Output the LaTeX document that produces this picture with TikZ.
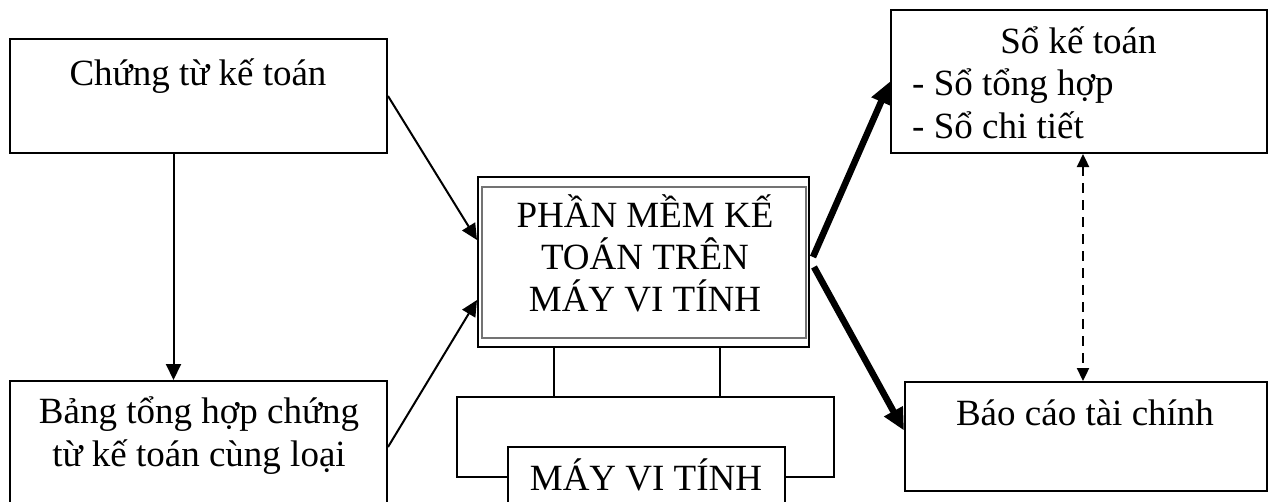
\documentclass[tikz,border=0pt]{standalone}
\usepackage{fontspec}
\setmainfont{Liberation Serif}
\usetikzlibrary{arrows.meta,calc}

\begin{document}
\begin{tikzpicture}[x=1pt,y=-1pt,
  box/.style={draw=black, line width=2pt, fill=white, rectangle, inner sep=0pt},
  txt/.style={anchor=base, inner sep=0pt, font=\fontsize{37}{42.5}\selectfont},
  thinarrow/.style={line width=2pt, -{Triangle[length=16pt,width=15pt]}},
  boldarrow/.style={line width=6.5pt, -{Triangle[length=22pt,width=20pt]}},
  dasharrow/.style={line width=2.3pt, dash pattern=on 10pt off 7pt,
    {Triangle[length=13pt,width=12pt]}-{Triangle[length=13pt,width=12pt]}}]

\useasboundingbox (0,0) rectangle (1272,501);
\clip (0,0) rectangle (1272,501);

% boxes
\node[box, minimum width=377pt, minimum height=114pt] (chung) at (198.5,96) {};
\node[box, minimum width=377pt, minimum height=132pt] (bang) at (198.5,447) {};
\node[box, minimum width=331pt, minimum height=170pt] (main) at (643.5,262) {};
\draw[line width=1.8pt, black!55] ($(main.north west)+(5,11)$) rectangle ($(main.south east)+(-4,-10)$);
\node[box, fill=none, minimum width=377pt, minimum height=80pt] (bus) at (645.5,437) {};
\node[box, minimum width=277pt, minimum height=100pt] (mvt) at (646.5,497) {};
\node[box, minimum width=376pt, minimum height=143pt] (so) at (1079,81.5) {};
\node[box, minimum width=362pt, minimum height=109pt] (bao) at (1086,436.5) {};

% texts
\node[txt] (tchung) at (198,85) {Chứng từ kế toán};
\node[txt] (tbang1) at (199,423) {Bảng tổng hợp chứng};
\node[txt] (tbang2) at (199,466) {từ kế toán cùng loại};
\node[txt] (tmain1) at (645,227) {PHẦN MỀM KẾ};
\node[txt] (tmain2) at (645,269) {TOÁN TRÊN};
\node[txt] (tmain3) at (645,311) {MÁY VI TÍNH};
\node[txt] (tmvt) at (646,490) {MÁY VI TÍNH};
\node[txt] (tso1) at (1078.5,53) {Sổ kế toán};
\node[txt, anchor=base west] (tso2) at (912,95) {- Sổ tổng hợp};
\node[txt, anchor=base west] (tso3) at (912,138) {- Sổ chi tiết};
\node[txt] (tbao) at (1085,425) {Báo cáo tài chính};

% links between the software and the computer
\draw[line width=2pt] ($(main.south west)+(77,0)$) -- ($(bus.north west)+(98,0)$);
\draw[line width=2pt] ($(main.south west)+(243,0)$) -- ($(bus.north west)+(264,0)$);

% arrows
\draw[thinarrow] ($(chung.south)+(-25,0)$) -- ($(bang.north)+(-25,0)$);
\draw[thinarrow] (chung.east) -- ($(main.west)+(0,-22)$);
\draw[thinarrow] (bang.east) -- ($(main.west)+(0,38)$);
\draw[boldarrow] ($(main.east)+(3,-5)$) -- (so.west);
\draw[boldarrow] ($(main.east)+(4,5)$) -- ($(bao.west)+(0,-6)$);
\draw[dasharrow] ($(so.south)+(4,0)$) -- ($(bao.north)+(-3,0)$);

\end{tikzpicture}
\end{document}
